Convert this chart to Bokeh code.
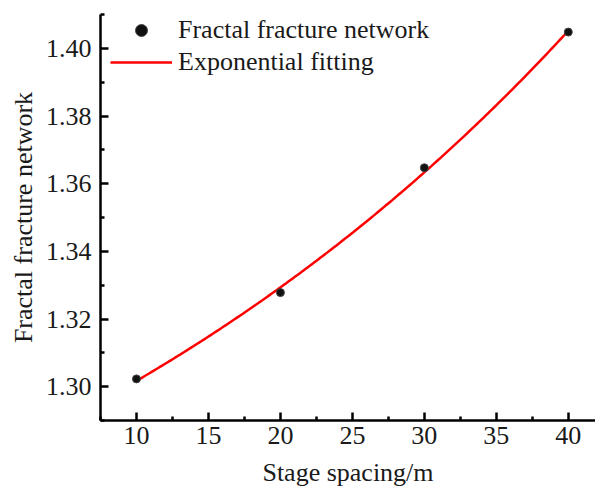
import numpy as np
from bokeh.plotting import figure
from bokeh.models import Range1d, FixedTicker, Legend, LegendItem, ColumnDataSource
from bokeh.embed import file_html
from bokeh.resources import INLINE

# Data
stage_spacing = [10, 20, 30, 40]
fractal_dim = [1.3023, 1.3278, 1.3647, 1.4048]

x_ticks = [10, 15, 20, 25, 30, 35, 40]
x_minor = [7.5, 12.5, 17.5, 22.5, 27.5, 32.5, 37.5, 42.5]
y_ticks = [1.30, 1.32, 1.34, 1.36, 1.38, 1.40]
y_minor = [1.29, 1.31, 1.33, 1.35, 1.37, 1.39, 1.41]
y_tick_labels = ["1.30", "1.32", "1.34", "1.36", "1.38", "1.40"]

# Exponential fit y = y0 + A*exp(x/t), least squares from the data points
xs = np.array(stage_spacing, dtype=float)
ys = np.array(fractal_dim, dtype=float)
best = None
for t in np.linspace(5, 200, 4000):
    M = np.column_stack([np.ones_like(xs), np.exp(xs / t)])
    coef, *_ = np.linalg.lstsq(M, ys, rcond=None)
    err = np.sum((M @ coef - ys) ** 2)
    if best is None or err < best[0]:
        best = (err, t, coef)
_, t_fit, (y0_fit, a_fit) = best
x_fit = np.linspace(10, 40, 200)
y_fit = y0_fit + a_fit * np.exp(x_fit / t_fit)

FONT = "Liberation Serif"

p = figure(width=595, height=489, output_backend="svg", toolbar_location=None,
           title=None,
           x_range=Range1d(7.5, 41.89), y_range=Range1d(1.29, 1.41),
           min_border_left=100, min_border_right=0, min_border_top=14,
           min_border_bottom=69)
p.outline_line_color = None
p.grid.visible = False
p.background_fill_color = "white"
p.border_fill_color = "white"

r_line = p.line(x_fit, y_fit, line_color="#ff0000", line_width=2.5)
src = ColumnDataSource(dict(x=stage_spacing, y=fractal_dim))
r_pts = p.scatter("x", "y", source=src, size=8, fill_color="#111111",
                  line_color="#444444", line_width=1)

for ax in (p.xaxis[0], p.yaxis[0]):
    ax.axis_line_width = 2.5
    ax.axis_line_color = "black"
    ax.major_tick_line_width = 2.5
    ax.minor_tick_line_width = 2.5
    ax.major_tick_line_color = "black"
    ax.minor_tick_line_color = "black"
    ax.major_tick_in = 8
    ax.major_tick_out = 0
    ax.minor_tick_in = 4
    ax.minor_tick_out = 0
    ax.major_label_text_font = FONT
    ax.major_label_text_font_size = "26px"
    ax.major_label_text_color = "#1a1a1a"
    ax.axis_label_text_font = FONT
    ax.axis_label_text_font_size = "26px"
    ax.axis_label_text_font_style = "normal"
    ax.axis_label_text_color = "#1a1a1a"

p.xaxis.ticker = FixedTicker(ticks=x_ticks, minor_ticks=x_minor)
p.yaxis.ticker = FixedTicker(ticks=y_ticks, minor_ticks=y_minor)
p.yaxis.major_label_overrides = {v: s for v, s in zip(y_ticks, y_tick_labels)}
p.xaxis.axis_label = "Stage spacing/m"
p.yaxis.axis_label = "Fractal fracture network"
p.xaxis.major_label_standoff = 6
p.yaxis.major_label_standoff = 9
p.xaxis.axis_label_standoff = 11
p.yaxis.axis_label_standoff = 5

legend = Legend(items=[LegendItem(label="Fractal fracture network", renderers=[r_pts]),
                       LegendItem(label="Exponential fitting", renderers=[r_line])],
                location=(10, 343), border_line_color=None, background_fill_alpha=0,
                padding=0, margin=0, spacing=2, glyph_width=62, glyph_height=30,
                label_height=30, label_standoff=6, label_text_font=FONT,
                label_text_font_size="26px", label_text_color="#1a1a1a")
p.add_layout(legend)

open("out.html", "w").write(file_html(p, INLINE))
